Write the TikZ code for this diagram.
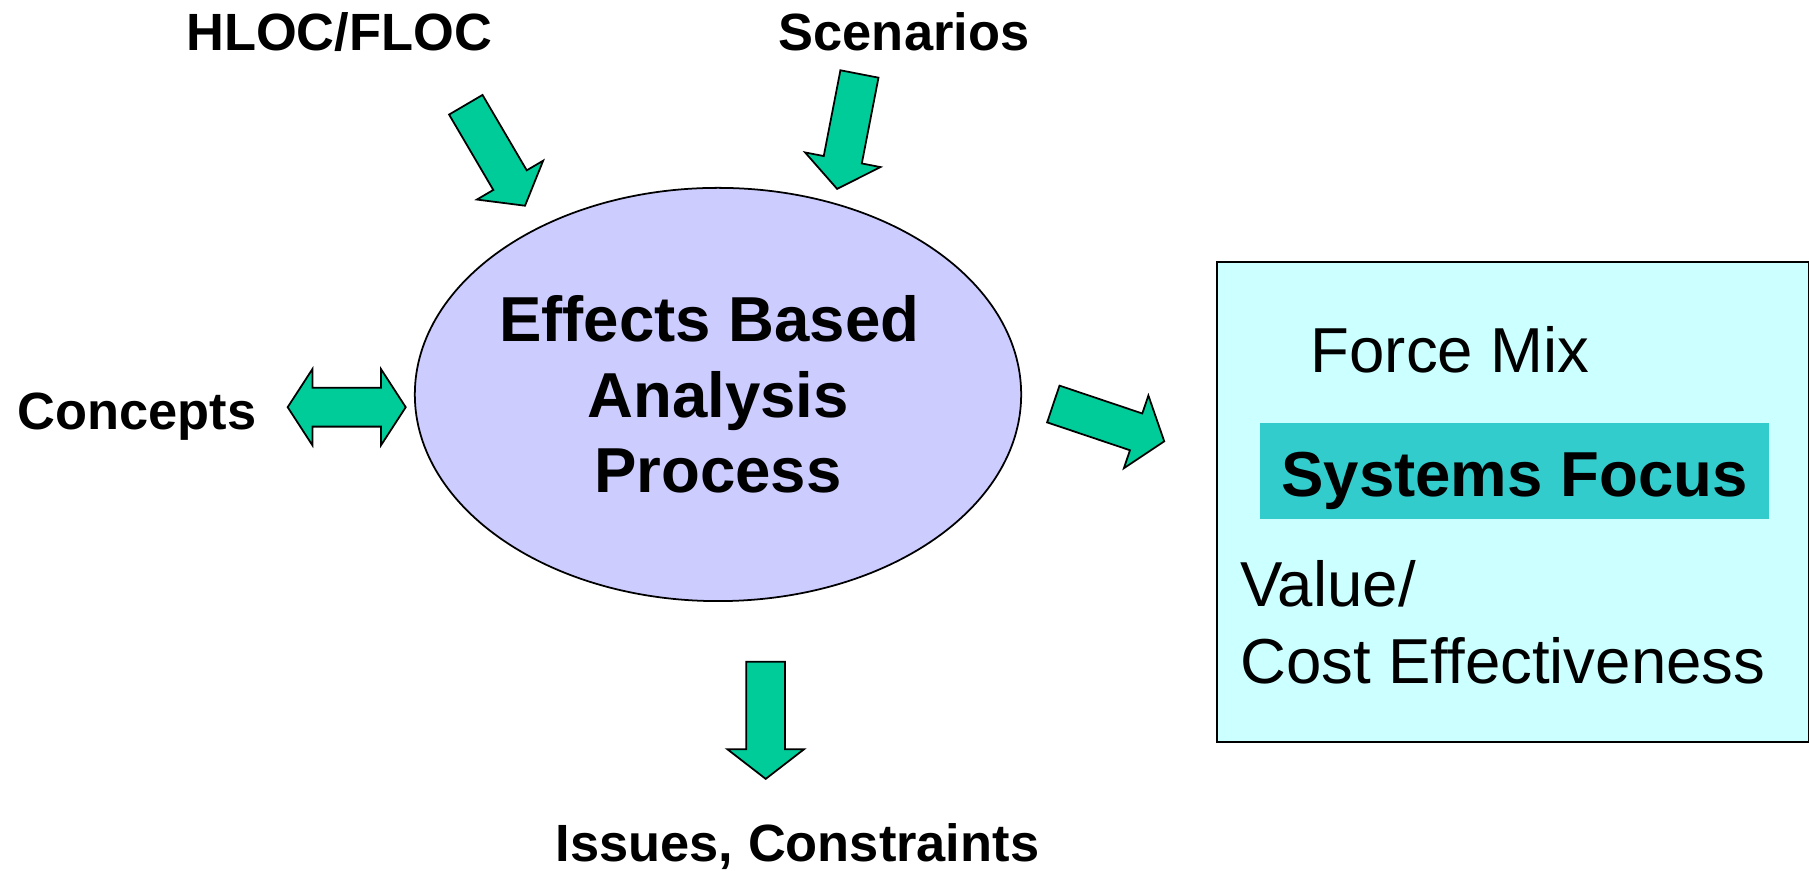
\documentclass[tikz,border=0pt]{standalone}
\usepackage{fontspec}
\setmainfont{Liberation Sans}
\usetikzlibrary{shapes.geometric,shapes.arrows}
\definecolor{arrowgreen}{RGB}{0,204,153}
\definecolor{lavender}{RGB}{204,204,255}
\definecolor{palecyan}{RGB}{204,255,255}
\definecolor{focusteal}{RGB}{51,204,204}
\tikzstyle{sidetext}=[font=\fontsize{14.9}{17.9}\selectfont\bfseries, inner sep=0pt]
\tikzstyle{boxtext}=[font=\fontsize{18.07}{21.8}\selectfont, inner sep=0pt, align=left]
\tikzstyle{blockarrow}=[single arrow, draw=black, fill=arrowgreen, line width=0.5pt, inner xsep=0pt, inner ysep=0.185cm, minimum height=1.17cm, minimum width=0.75cm, single arrow head extend=0.19cm, single arrow tip angle=104.6]
\tikzstyle{twoarrow}=[double arrow, draw=black, fill=arrowgreen, line width=0.5pt, inner xsep=0pt, inner ysep=0.1855cm, minimum height=1.18cm, minimum width=0.743cm, double arrow head extend=0.186cm, double arrow tip angle=114]

\begin{document}
\begin{tikzpicture}[x=0.01cm,y=-0.01cm]
\useasboundingbox (0,0) rectangle (1809,871);
\node[ellipse, draw=black, fill=lavender, line width=0.5pt, minimum width=6.06cm, minimum height=4.13cm, inner sep=0pt] (ebap) at (718,394.5) {};
\node[align=center, inner sep=0pt, font=\fontsize{18.07}{21.48}\selectfont\bfseries] (ebaptext) at (ebap.center) {Effects Based\kern0.177cm\\Analysis\\Process};
\node[sidetext, anchor=base] (hloc) at (339,51) {HLOC/FLOC};
\node[sidetext, anchor=base] (scen) at (904,51) {Scenarios};
\node[sidetext, anchor=base] (conc) at (137,430) {Concepts};
\node[sidetext, anchor=base] (issu) at (797.5,861.5) {Issues, Constraints};
\node[blockarrow, rotate=-59.6, anchor=tip] (hlocarrow) at (525.6,206.7) {};
\node[blockarrow, rotate=-101, anchor=tip] (scenarrow) at (836.9,190) {};
\node[blockarrow, rotate=-90, anchor=tip] (issuarrow) at (765.7,780) {};
\node[blockarrow, rotate=-18.6, anchor=tip] (outarrow) at (1165.3,441.7) {};
\node[twoarrow] (concarrow) at (346.7,407.2) {};
\node[draw=black, fill=palecyan, line width=0.6pt, inner sep=0pt, minimum width=5.92cm, minimum height=4.80cm, anchor=north west] (result) at (1216,261) {};
\node[boxtext, anchor=base west] (forcemix) at (1310,373) {Force Mix};
\node[fill=focusteal, inner sep=0pt, minimum width=5.09cm, minimum height=0.965cm, text height=0.496cm, text depth=0cm, font=\fontsize{18.07}{21.8}\selectfont\bfseries] (sysfocus) at (1514.5,471.2) {Systems Focus};
\node[boxtext, anchor=south west] (valuecost) at (1239.5,684.5) {Value/\\Cost Effectiveness};
\end{tikzpicture}
\end{document}
